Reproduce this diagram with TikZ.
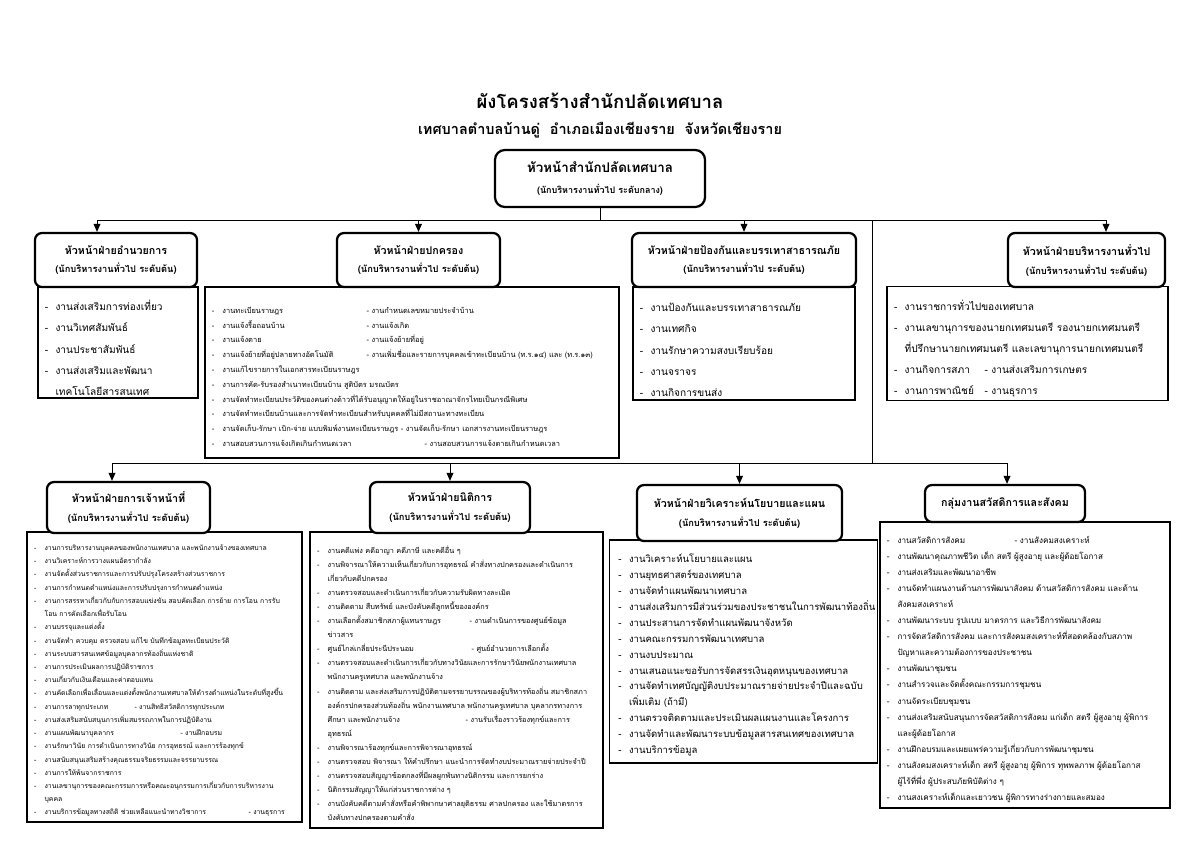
\documentclass[tikz,border=0pt]{standalone}
\usepackage{fontspec}
\setmainfont{Loma}[Script=Thai]
\usetikzlibrary{positioning, arrows.meta}

\newcommand{\li}[1]{\par\hangindent=7.5pt\hangafter=1\noindent\makebox[7.5pt][l]{-}#1}
\newcommand{\nl}{\par\noindent\hspace*{7.5pt}}

\begin{document}
\begin{tikzpicture}[x=0.025cm, y=-0.025cm,
    headbox/.style={rectangle, rounded corners=5pt, draw=black, line width=1.6pt, fill=white, align=center, font=\bfseries\fontsize{7.6}{13.5}\selectfont, inner sep=2pt},
    listbox/.style={rectangle, draw=black, line width=1pt, fill=white, align=left, inner xsep=5pt, inner ysep=2pt},
    link/.style={line width=0.7pt, draw=black},
    down/.style={-{Triangle[length=2mm, width=1.7mm]}, line width=0.7pt, draw=black}
]
\useasboundingbox (0,0) rectangle (1200,849);

\node[font=\bfseries\fontsize{13.2}{16}\selectfont] (title) at (600,101) {ผังโครงสร้างสำนักปลัดเทศบาล};
\node[font=\bfseries\fontsize{10.3}{13}\selectfont] (place) at (600,130) {เทศบาลตำบลบ้านดู่\ \ อำเภอเมืองเชียงราย\ \ จังหวัดเชียงราย};

\node[headbox, rounded corners=7pt, minimum width=5.25cm, minimum height=1.425cm, font=\bfseries\fontsize{9.5}{15}\selectfont] (top) at (600,178.5) {หัวหน้าสำนักปลัดเทศบาล\\{\fontsize{6.4}{15}\selectfont (นักบริหารงานทั่วไป ระดับกลาง)}};

% first row
\node[listbox, text width=3.65cm, minimum height=2.775cm, font=\fontsize{7.2}{15}\selectfont] (admin) at (118,342.5) {%
\li{งานส่งเสริมการท่องเที่ยว}
\li{งานวิเทศสัมพันธ์}
\li{งานประชาสัมพันธ์}
\li{งานส่งเสริมและพัฒนา\nl เทคโนโลยีสารสนเทศ}};
\node[listbox, text width=10cm, minimum height=4.275cm, font=\fontsize{5.3}{10.5}\selectfont] (gov) at (412,372.5) {%
\li{\makebox[3.6cm][l]{งานทะเบียนราษฎร}- งานกำหนดเลขหมายประจำบ้าน}
\li{\makebox[3.6cm][l]{งานแจ้งรื้อถอนบ้าน}- งานแจ้งเกิด}
\li{\makebox[3.6cm][l]{งานแจ้งตาย}- งานแจ้งย้ายที่อยู่}
\li{\makebox[3.6cm][l]{งานแจ้งย้ายที่อยู่ปลายทางอัตโนมัติ}- งานเพิ่มชื่อและรายการบุคคลเข้าทะเบียนบ้าน (ท.ร.๑๔) และ (ท.ร.๑๓)}
\li{งานแก้ไขรายการในเอกสารทะเบียนราษฎร}
\li{งานการคัด-รับรองสำเนาทะเบียนบ้าน สูติบัตร มรณบัตร}
\li{งานจัดทำทะเบียนประวัติของคนต่างด้าวที่ได้รับอนุญาตให้อยู่ในราชอาณาจักรไทยเป็นกรณีพิเศษ}
\li{งานจัดทำทะเบียนบ้านและการจัดทำทะเบียนสำหรับบุคคลที่ไม่มีสถานะทางทะเบียน}
\li{งานจัดเก็บ-รักษา เบิก-จ่าย แบบพิมพ์งานทะเบียนราษฎร - งานจัดเก็บ-รักษา เอกสารงานทะเบียนราษฎร}
\li{\makebox[5.05cm][l]{งานสอบสวนการแจ้งเกิดเกินกำหนดเวลา}- งานสอบสวนการแจ้งตายเกินกำหนดเวลา}};
\node[listbox, text width=5.2cm, minimum height=2.825cm, font=\fontsize{7.2}{15}\selectfont] (safety) at (744,343.5) {%
\li{งานป้องกันและบรรเทาสาธารณภัย}
\li{งานเทศกิจ}
\li{งานรักษาความสงบเรียบร้อย}
\li{งานจราจร}
\li{งานกิจการขนส่ง}};
\node[listbox, text width=6.67cm, minimum height=2.825cm, font=\fontsize{7.2}{15}\selectfont] (general) at (1027.5,343.5) {%
\li{งานราชการทั่วไปของเทศบาล}
\li{งานเลขานุการของนายกเทศมนตรี รองนายกเทศมนตรี\nl ที่ปรึกษานายกเทศมนตรี และเลขานุการนายกเทศมนตรี}
\li{\makebox[2cm][l]{งานกิจการสภา}- งานส่งเสริมการเกษตร}
\li{\makebox[2cm][l]{งานการพาณิชย์}- งานธุรการ}};

\node[headbox, minimum width=4.05cm, minimum height=1.35cm] (hadmin) at (116,260) {หัวหน้าฝ่ายอำนวยการ\\{\fontsize{6.6}{13.5}\selectfont (นักบริหารงานทั่วไป ระดับต้น)}};
\node[headbox, minimum width=4.075cm, minimum height=1.35cm] (hgov) at (418.5,260) {หัวหน้าฝ่ายปกครอง\\{\fontsize{6.6}{13.5}\selectfont (นักบริหารงานทั่วไป ระดับต้น)}};
\node[headbox, minimum width=5.6cm, minimum height=1.35cm] (hsafety) at (744,260) {หัวหน้าฝ่ายป้องกันและบรรเทาสาธารณภัย\\{\fontsize{6.6}{13.5}\selectfont (นักบริหารงานทั่วไป ระดับต้น)}};
\node[headbox, minimum width=3.925cm, minimum height=1.35cm] (hgeneral) at (1086.5,260) {หัวหน้าฝ่ายบริหารงานทั่วไป\\{\fontsize{6.6}{13.5}\selectfont (นักบริหารงานทั่วไป ระดับต้น)}};

% second row
\node[listbox, text width=6.52cm, minimum height=7.25cm, font=\fontsize{4.9}{9.4}\selectfont] (staff) at (164.5,677) {%
\li{งานการบริหารงานบุคคลของพนักงานเทศบาล และพนักงานจ้างของเทศบาล}
\li{งานวิเคราะห์การวางแผนอัตรากำลัง}
\li{งานจัดตั้งส่วนราชการและการปรับปรุงโครงสร้างส่วนราชการ}
\li{งานการกำหนดตำแหน่งและการปรับปรุงการกำหนดตำแหน่ง}
\li{งานการสรรหาเกี่ยวกับกับการสอบแข่งขัน สอบคัดเลือก การย้าย การโอน การรับ\nl โอน การคัดเลือกเพื่อรับโอน}
\li{งานบรรจุและแต่งตั้ง}
\li{งานจัดทำ ควบคุม ตรวจสอบ แก้ไข บันทึกข้อมูลทะเบียนประวัติ}
\li{งานระบบสารสนเทศข้อมูลบุคลากรท้องถิ่นแห่งชาติ}
\li{งานการประเมินผลการปฏิบัติราชการ}
\li{งานเกี่ยวกับเงินเดือนและค่าตอบแทน}
\li{งานคัดเลือกเพื่อเลื่อนและแต่งตั้งพนักงานเทศบาลให้ดำรงตำแหน่งในระดับที่สูงขึ้น}
\li{\makebox[2.25cm][l]{งานการลาทุกประเภท}- งานสิทธิสวัสดิการทุกประเภท}
\li{งานส่งเสริมสนับสนุนการเพิ่มสมรรถภาพในการปฏิบัติงาน}
\li{\makebox[3.4cm][l]{งานแผนพัฒนาบุคลากร}- งานฝึกอบรม}
\li{งานรักษาวินัย การดำเนินการทางวินัย การอุทธรณ์ และการร้องทุกข์}
\li{งานสนับสนุนเสริมสร้างคุณธรรมจริยธรรมและจรรยาบรรณ}
\li{งานการให้พ้นจากราชการ}
\li{งานเลขานุการของคณะกรรมการหรือคณะอนุกรรมการเกี่ยวกับการบริหารงาน\nl บุคคล}
\li{\makebox[5.1cm][l]{งานบริการข้อมูลทางสถิติ ช่วยเหลือแนะนำทางวิชาการ}- งานธุรการ}};
\node[listbox, text width=6.97cm, minimum height=7.4cm, font=\fontsize{5.2}{10}\selectfont] (legal) at (456.5,680) {%
\li{งานคดีแพ่ง คดีอาญา คดีภาษี และคดีอื่น ๆ}
\li{งานพิจารณาให้ความเห็นเกี่ยวกับการอุทธรณ์ คำสั่งทางปกครองและดำเนินการ\nl เกี่ยวกับคดีปกครอง}
\li{งานตรวจสอบและดำเนินการเกี่ยวกับความรับผิดทางละเมิด}
\li{งานติดตาม สืบทรัพย์ และบังคับคดีลูกหนี้ขององค์กร}
\li{\makebox[3.55cm][l]{งานเลือกตั้งสมาชิกสภาผู้แทนราษฎร}- งานดำเนินการของศูนย์ข้อมูล\nl ข่าวสาร}
\li{\makebox[3.6cm][l]{ศูนย์ไกล่เกลี่ยประนีประนอม}- ศูนย์อำนวยการเลือกตั้ง}
\li{งานตรวจสอบและดำเนินการเกี่ยวกับทางวินัยและการรักษาวินัยพนักงานเทศบาล\nl พนักงานครูเทศบาล และพนักงานจ้าง}
\li{งานติดตาม และส่งเสริมการปฏิบัติตามจรรยาบรรณของผู้บริหารท้องถิ่น สมาชิกสภา\nl องค์กรปกครองส่วนท้องถิ่น พนักงานเทศบาล พนักงานครูเทศบาล บุคลากรทางการ\nl \makebox[3.45cm][l]{ศึกษา และพนักงานจ้าง}- งานรับเรื่องราวร้องทุกข์และการ\nl อุทธรณ์}
\li{งานพิจารณาร้องทุกข์และการพิจารณาอุทธรณ์}
\li{งานตรวจสอบ พิจารณา ให้คำปรึกษา แนะนำการจัดทำงบประมาณรายจ่ายประจำปี}
\li{งานตรวจสอบสัญญาข้อตกลงที่มีผลผูกพันทางนิติกรรม และการยกร่าง}
\li{นิติกรรมสัญญาให้แก่ส่วนราชการต่าง ๆ}
\li{งานบังคับคดีตามคำสั่งหรือคำพิพากษาศาลยุติธรรม ศาลปกครอง และใช้มาตรการ\nl บังคับทางปกครองตามคำสั่ง}};
\node[listbox, text width=6.25cm, inner xsep=6.5pt, minimum height=5.575cm, font=\fontsize{6.8}{11.3}\selectfont] (plan) at (743.5,651.5) {%
\li{งานวิเคราะห์นโยบายและแผน}
\li{งานยุทธศาสตร์ของเทศบาล}
\li{งานจัดทำแผนพัฒนาเทศบาล}
\li{งานส่งเสริมการมีส่วนร่วมของประชาชนในการพัฒนาท้องถิ่น}
\li{งานประสานการจัดทำแผนพัฒนาจังหวัด}
\li{งานคณะกรรมการพัฒนาเทศบาล}
\li{งานงบประมาณ}
\li{งานเสนอแนะขอรับการจัดสรรเงินอุดหนุนของเทศบาล}
\li{งานจัดทำเทศบัญญัติงบประมาณรายจ่ายประจำปีและฉบับ\nl เพิ่มเติม (ถ้ามี)}
\li{งานตรวจติดตามและประเมินผลแผนงานและโครงการ}
\li{งานจัดทำและพัฒนาระบบข้อมูลสารสนเทศของเทศบาล}
\li{งานบริการข้อมูล}};
\node[listbox, text width=6.9cm, minimum height=7.15cm, font=\fontsize{5.8}{11.4}\selectfont] (welfare) at (1025,665) {%
\li{\makebox[2.925cm][l]{งานสวัสดิการสังคม}- งานสังคมสงเคราะห์}
\li{งานพัฒนาคุณภาพชีวิต เด็ก สตรี ผู้สูงอายุ และผู้ด้อยโอกาส}
\li{งานส่งเสริมและพัฒนาอาชีพ}
\li{งานจัดทำแผนงานด้านการพัฒนาสังคม ด้านสวัสดิการสังคม และด้าน\nl สังคมสงเคราะห์}
\li{งานพัฒนาระบบ รูปแบบ มาตรการ และวิธีการพัฒนาสังคม}
\li{การจัดสวัสดิการสังคม และการสังคมสงเคราะห์ที่สอดคล้องกับสภาพ\nl ปัญหาและความต้องการของประชาชน}
\li{งานพัฒนาชุมชน}
\li{งานสำรวจและจัดตั้งคณะกรรมการชุมชน}
\li{งานจัดระเบียบชุมชน}
\li{งานส่งเสริมสนับสนุนการจัดสวัสดิการสังคม แก่เด็ก สตรี ผู้สูงอายุ ผู้พิการ\nl และผู้ด้อยโอกาส}
\li{งานฝึกอบรมและเผยแพร่ความรู้เกี่ยวกับการพัฒนาชุมชน}
\li{งานสังคมสงเคราะห์เด็ก สตรี ผู้สูงอายุ ผู้พิการ ทุพพลภาพ ผู้ด้อยโอกาส\nl ผู้ไร้ที่พึ่ง ผู้ประสบภัยพิบัติต่าง ๆ}
\li{งานสงเคราะห์เด็กและเยาวชน ผู้พิการทางร่างกายและสมอง}};

\node[headbox, minimum width=4.075cm, minimum height=1.275cm] (hstaff) at (128.5,507.5) {หัวหน้าฝ่ายการเจ้าหน้าที่\\{\fontsize{6.6}{13.5}\selectfont (นักบริหารงานทั่วไป ระดับต้น)}};
\node[headbox, minimum width=4cm, minimum height=1.275cm] (hlegal) at (450,507.5) {หัวหน้าฝ่ายนิติการ\\{\fontsize{6.6}{13.5}\selectfont (นักบริหารงานทั่วไป ระดับต้น)}};
\node[headbox, minimum width=5.125cm, minimum height=1.4cm] (hplan) at (739.5,513) {หัวหน้าฝ่ายวิเคราะห์นโยบายและแผน\\{\fontsize{6.6}{13.5}\selectfont (นักบริหารงานทั่วไป ระดับต้น)}};
\node[headbox, minimum width=4cm, minimum height=0.925cm] (hwelfare) at (1005,503.5) {กลุ่มงานสวัสดิการและสังคม};

% connectors
\coordinate (bar1l) at (97,220);
\coordinate (bar1r) at (1106,220);
\coordinate (split) at (872,220);
\coordinate (bar2) at (872,463);
\coordinate (bar2l) at (112,463);
\coordinate (bar2r) at (1007,463);
\draw[link] (top.south) -- (top.south |- bar1l);
\draw[link] (bar1l) -- (bar1r);
\draw[down] (bar1l) -- (bar1l |- hadmin.north);
\draw[down] (hgov.north |- bar1l) -- (hgov.north);
\draw[down] (hsafety.north |- bar1l) -- (hsafety.north);
\draw[down] (bar1r) -- (bar1r |- hgeneral.north);
\draw[link] (split) -- (bar2);
\draw[link] (bar2l) -- (bar2r);
\draw[down] (bar2l) -- (bar2l |- hstaff.north);
\draw[down] (hlegal.north |- bar2l) -- (hlegal.north);
\draw[down] (hplan.north |- bar2l) -- (hplan.north);
\draw[down] (bar2r) -- (bar2r |- hwelfare.north);
\end{tikzpicture}
\end{document}
